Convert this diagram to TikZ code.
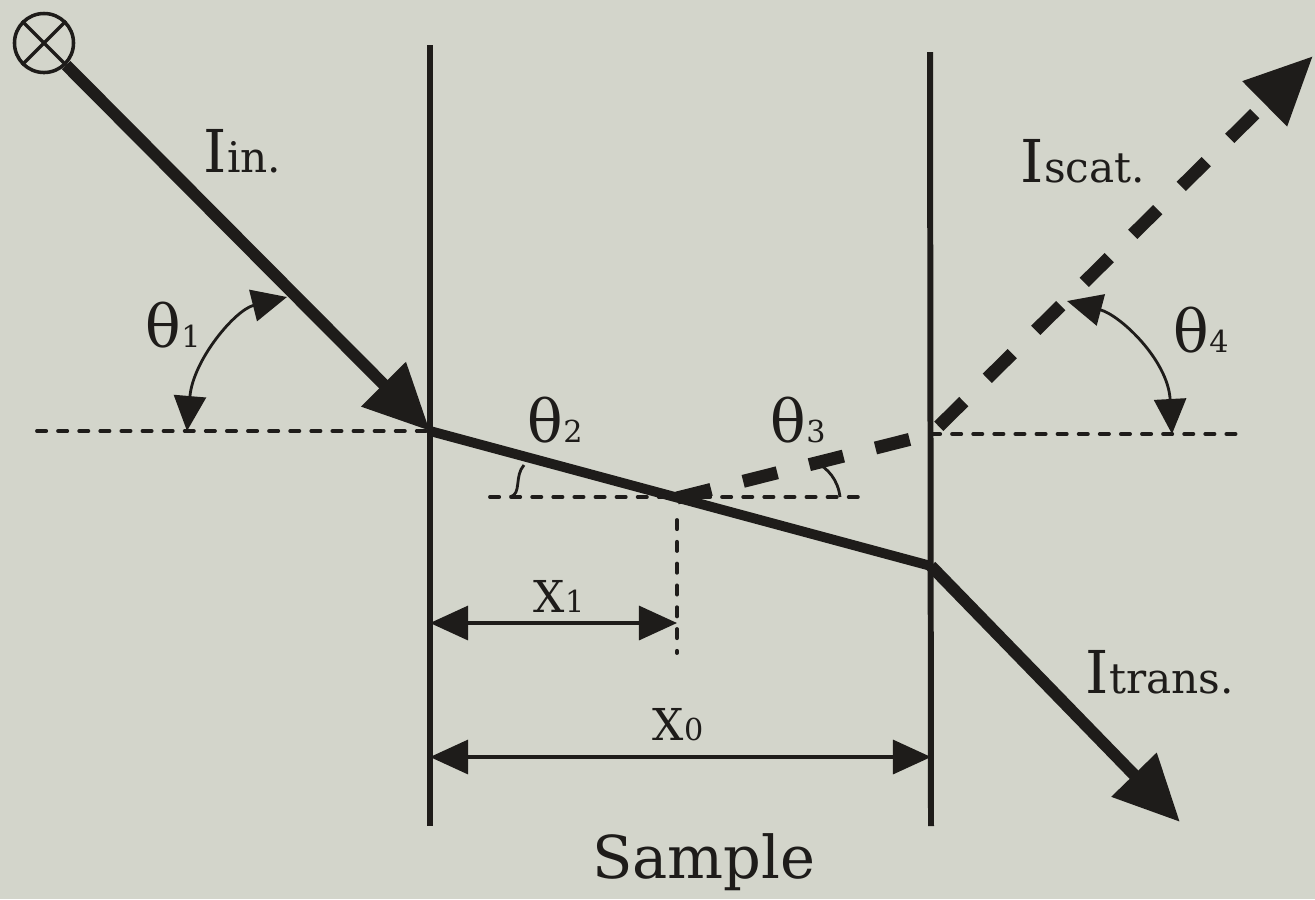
\documentclass[tikz,border=0pt]{standalone}
\usepackage{fontspec}
\setmainfont{DejaVu Serif}
\definecolor{paper}{RGB}{211, 213, 203}
\definecolor{ink}{RGB}{30, 28, 26}
\usepackage{tikz}
\usetikzlibrary{arrows.meta}

\newcommand{\beamlabel}[1]{{\fontsize{16.8}{18}\selectfont I}{\fontsize{12}{14}\selectfont #1}}
\newcommand{\anglabel}[1]{{\fontsize{16.8}{18}\selectfont θ}{\fontsize{8.6}{10}\selectfont #1}}
\newcommand{\distlabel}[1]{{\fontsize{12.5}{14}\selectfont X}{\fontsize{8.6}{10}\selectfont #1}}

\begin{document}
\begin{tikzpicture}[
    x=0.01cm, y=-0.01cm,
    beam/.style={ink, line width=3.4pt, -{Triangle[length=0.66cm, width=0.6cm]}},
    scat/.style={ink, line width=3.7pt, dash pattern=on 10pt off 9.4pt,
                 -{Triangle[length=0.68cm, width=0.6cm]}},
    wallline/.style={ink, line width=1.7pt},
    guide/.style={ink, line width=1.1pt, line cap=round, dash pattern=on 2.6pt off 3.4pt},
    arr/.style={ink, line width=0.8pt, {Triangle[length=0.35cm, width=0.32cm]}-{Triangle[length=0.35cm, width=0.32cm]}},
    dim/.style={ink, line width=0.9pt, {Triangle[length=0.38cm, width=0.34cm]}-{Triangle[length=0.38cm, width=0.34cm]}},
    lbl/.style={ink, inner sep=0pt, anchor=base west}
  ]
    \fill[paper] (0,0) rectangle (1315,899);
    \useasboundingbox (0,0) rectangle (1315,899);

    \coordinate (inL) at (430,431);
    \coordinate (outR) at (931,566);
    \coordinate (sc) at (677,498);
    \coordinate (exitS) at (931,434);
    \coordinate (tipS) at (1313,56);
    \coordinate (tipT) at (1180,822);

    \draw[wallline] (430,45) coordinate (wallLt) -- (430,826) coordinate (wallLb);
    \draw[wallline] (930,52) coordinate (wallRt) -- (931,826) coordinate (wallRb);

    \draw[guide] (37,431) coordinate (dl) -- (inL);
    \draw[guide] (exitS) -- (1238,434) coordinate (dr);
    \draw[guide] (490,497) coordinate (dm1) -- (863,497) coordinate (dm2);
    \draw[guide, dash pattern=on 2.6pt off 3.6pt] (677,520) coordinate (v1) -- (677,653) coordinate (v2);

    \node[circle, draw=ink, line width=1pt, minimum size=0.59cm, inner sep=0pt] (src) at (44,43) {};
    \draw[ink, line width=1pt] (src.north west) -- (src.south east)
                               (src.north east) -- (src.south west);

    \draw[beam] (src.south east) -- (inL);
    \draw[ink, line width=2.8pt, line join=round] (inL) -- (outR);
    \draw[beam] (outR) -- (tipT);
    \draw[scat] (sc) -- (exitS) -- (tipS);

    \draw[arr] (187,431) coordinate (a1s) .. controls (193,360) and (235,310) .. (287,297) coordinate (a1e);
    \draw[arr] (1067,301) coordinate (a4s) .. controls (1120,315) and (1168,360) .. (1172,434) coordinate (a4e);
    \draw[ink, line width=0.8pt] (510,497) coordinate (h2s) .. controls (522,494) and (514,476) .. (524,465) coordinate (h2e);
    \draw[ink, line width=0.8pt] (840,497) coordinate (h3s) .. controls (838,480) and (828,468) .. (815,462) coordinate (h3e);

    \coordinate (x1L) at (430,623);
    \draw[dim] (x1L) -- (sc |- x1L);
    \coordinate (x0L) at (430,757);
    \draw[dim] (x0L) -- (wallRb |- x0L);

    \node[lbl] (iin) at (203,172) {\beamlabel{in.}};
    \node[lbl] (iscat) at (1020,182) {\beamlabel{scat.}};
    \node[lbl] (itrans) at (1085,693) {\beamlabel{trans.}};
    \node[lbl] (th1) at (145,347) {\anglabel{1}};
    \node[lbl] (th2) at (527,442) {\anglabel{2}};
    \node[lbl] (th3) at (770,442) {\anglabel{3}};
    \node[lbl] (th4) at (1173,352) {\anglabel{4}};
    \node[lbl] (x1) at (533,612) {\distlabel{1}};
    \node[lbl] (x0) at (652,740) {\distlabel{0}};
    \node[ink, inner sep=0pt, anchor=base, font=\fontsize{16.8}{18}\selectfont] (sample) at (704,878) {Sample};
  \end{tikzpicture}
\end{document}
